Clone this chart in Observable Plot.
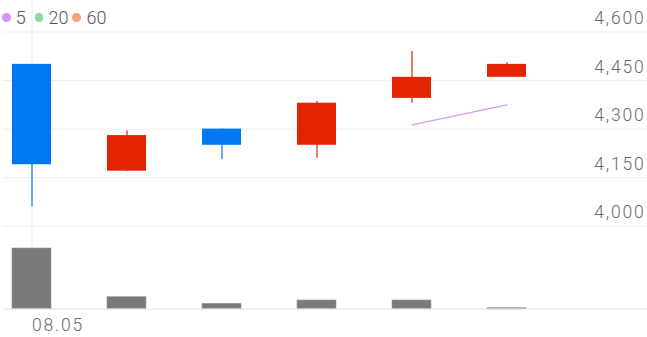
<!DOCTYPE html>
<html>
<head>
<meta charset="utf-8">
<script src="https://cdn.jsdelivr.net/npm/d3@7"></script>
<script src="https://cdn.jsdelivr.net/npm/@observablehq/plot@0.6"></script>
<style>
  html, body { margin: 0; padding: 0; background: #fff; }
  #wrap { position: relative; width: 647px; height: 337px; overflow: hidden; }
  #wrap svg { position: absolute; left: 0; top: 0; background: transparent; }
  .legend { position: absolute; left: 0; top: 0; width: 120px; height: 30px; font-family: Roboto, sans-serif; font-weight: 300; font-size: 18px; color: #555; }
  .legend span { position: absolute; line-height: 1; }
  .legend .dot { width: 8.6px; height: 8.6px; border-radius: 50%; }
</style>
</head>
<body>
<div id="wrap"></div>
<script>
// ---- data ----
const dates = ["08.05", "08.06", "08.07", "08.08", "08.09", "08.12"];
const open  = [4500, 4170, 4300, 4250, 4395, 4460];
const high  = [4500, 4295, 4300, 4385, 4540, 4505];
const low   = [4060, 4170, 4205, 4210, 4380, 4460];
const close = [4190, 4280, 4250, 4380, 4460, 4500];
const volume = [2450000, 485000, 218000, 351000, 351000, 40000];
const ma5Dates = ["08.09", "08.12"];
const ma5Values = [4313, 4375];
const priceTicks = [4000, 4150, 4300, 4450, 4600];
const xTickLabels = ["08.05"];
const maPeriods = [5, 20, 60];
const maColors = ["#d592ef", "#8fd9a2", "#f6a27c"];

const UP = "#e22500", DOWN = "#0078f0";

const candles = dates.map((d, i) => ({date: d, open: open[i], high: high[i], low: low[i], close: close[i]}));
const vols = dates.map((d, i) => ({date: d, vol: volume[i]}));
const ma5 = ma5Dates.map((d, i) => ({date: d, ma: ma5Values[i]}));
const col = d => d.close >= d.open ? UP : DOWN;

const xScale = {type: "band", domain: dates, range: [11.75, 527.25], paddingInner: 0.585, paddingOuter: 0, axis: null};

const price = Plot.plot({
  width: 647, height: 337,
  marginTop: 0, marginRight: 0, marginBottom: 28, marginLeft: 3,
  style: {fontFamily: "Roboto, sans-serif", fontWeight: 300, fontSize: "17.5px", letterSpacing: "1.8px", color: "#6a6a6a", background: "transparent"},
  x: xScale,
  y: {domain: [4000, 4600], range: [225.7, 31.5], axis: null},
  marks: [
    Plot.gridY(priceTicks, {stroke: "#efefef", strokeOpacity: 1}),
    Plot.ruleX(xTickLabels, {stroke: "#efefef", strokeOpacity: 1}),
    Plot.axisY(priceTicks, {anchor: "right", label: null, tickSize: 0, tickPadding: 0, textAnchor: "end", dx: -2, dy: -13.5, tickFormat: d3.format(","), fill: "#6a6a6a"}),
    Plot.axisX(xTickLabels, {anchor: "bottom", label: null, tickSize: 0, tickPadding: 9, textAnchor: "start", dx: 0, fill: "#6a6a6a"}),
    Plot.ruleX(candles, {x: "date", y1: "low", y2: "high", stroke: col, strokeWidth: 1.2}),
    Plot.barY(candles, {x: "date", y1: "open", y2: "close", fill: col}),
    Plot.line(ma5, {x: "date", y: "ma", stroke: "#d99af0", strokeWidth: 1.3})
  ]
});

const vol = Plot.plot({
  width: 647, height: 337,
  marginTop: 0, marginRight: 0, marginBottom: 0, marginLeft: 3,
  style: {background: "transparent"},
  x: xScale,
  y: {domain: [0, d3.max(volume)], range: [308.7, 248], axis: null},
  marks: [
    Plot.barY(vols, {x: "date", y: "vol", fill: "#7a7a7a", stroke: "#9a9a9a", strokeWidth: 0.6}),
    Plot.ruleY([0], {stroke: "#e6e6e6", strokeWidth: 1.2})
  ]
});

const wrap = document.getElementById("wrap");
wrap.appendChild(price);
wrap.appendChild(vol);

// legend
const lg = document.createElement("div");
lg.className = "legend";
const dotX = [2.4, 34.7, 72.4];
const txtX = [15.8, 48.6, 86.6];
maPeriods.forEach((p, i) => {
  const dot = document.createElement("span");
  dot.className = "dot";
  dot.style.left = dotX[i] + "px";
  dot.style.top = "13.4px";
  dot.style.background = maColors[i];
  lg.appendChild(dot);
  const t = document.createElement("span");
  t.textContent = p;
  t.style.left = txtX[i] + "px";
  t.style.top = "9px";
  lg.appendChild(t);
});
wrap.appendChild(lg);
</script>
</body>
</html>
